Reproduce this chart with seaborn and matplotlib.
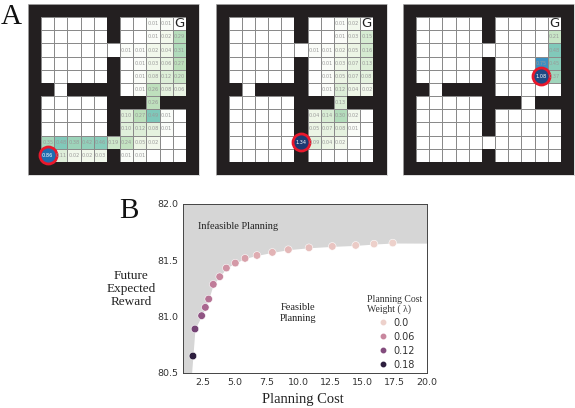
import numpy as np
import pandas as pd
import matplotlib
matplotlib.use("Agg")
import matplotlib.pyplot as plt
from matplotlib.colors import LinearSegmentedColormap, ListedColormap, Normalize
from matplotlib.lines import Line2D
import seaborn as sns

W, H = 575, 408
SERIF = "Liberation Serif"
WALL = "#231f20"

# maze layout, # is wall
MAZE = [
    "#############",
    "#.....#.....#",
    "#.....#.....#",
    "#...........#",
    "#.....#.....#",
    "#.....#.....#",
    "##.####.....#",
    "#.....###.###",
    "#.....#.....#",
    "#.....#.....#",
    "#...........#",
    "#.....#.....#",
    "#############",
]
GOAL = (1, 11)

# cell values, rows 1-11 of the maze and columns 1-11
VALUES_LEFT = [
    [0, 0, 0, 0, 0, 0, 0, 0, .01, .01, 0],
    [0, 0, 0, 0, 0, 0, 0, 0, .01, .02, .29],
    [0, 0, 0, 0, 0, 0, .01, .01, .02, .04, .31],
    [0, 0, 0, 0, 0, 0, 0, .01, .03, .06, .27],
    [0, 0, 0, 0, 0, 0, 0, .01, .08, .12, .20],
    [0, 0, 0, 0, 0, 0, 0, .01, .26, .08, .06],
    [0, 0, 0, 0, 0, 0, 0, 0, .26, 0, 0],
    [0, 0, 0, 0, 0, 0, .10, .27, .49, .01, 0],
    [0, 0, 0, 0, 0, 0, .10, .12, .08, .01, 0],
    [.35, .48, .38, .42, .46, .19, .24, .05, .02, 0, 0],
    [.86, .11, .02, .02, .03, 0, .01, .01, 0, 0, 0],
]
VALUES_MIDDLE = [
    [0, 0, 0, 0, 0, 0, 0, 0, .01, .02, 0],
    [0, 0, 0, 0, 0, 0, 0, 0, .01, .03, .15],
    [0, 0, 0, 0, 0, 0, .01, .01, .02, .05, .16],
    [0, 0, 0, 0, 0, 0, 0, .01, .03, .07, .13],
    [0, 0, 0, 0, 0, 0, 0, .01, .05, .07, .08],
    [0, 0, 0, 0, 0, 0, 0, .01, .12, .04, .02],
    [0, 0, 0, 0, 0, 0, 0, 0, .13, 0, 0],
    [0, 0, 0, 0, 0, 0, .04, .14, .30, .02, 0],
    [0, 0, 0, 0, 0, 0, .05, .07, .08, .01, 0],
    [0, 0, 0, 0, 0, 1.34, .09, .04, .02, 0, 0],
    [0, 0, 0, 0, 0, 0, 0, 0, 0, 0, 0],
]
VALUES_RIGHT = [
    [0, 0, 0, 0, 0, 0, 0, 0, 0, 0, 0],
    [0, 0, 0, 0, 0, 0, 0, 0, 0, 0, .21],
    [0, 0, 0, 0, 0, 0, 0, 0, 0, 0, .48],
    [0, 0, 0, 0, 0, 0, 0, 0, 0, .75, .45],
    [0, 0, 0, 0, 0, 0, 0, 0, 0, 1.08, .37],
    [0, 0, 0, 0, 0, 0, 0, 0, 0, 0, 0],
    [0, 0, 0, 0, 0, 0, 0, 0, 0, 0, 0],
    [0, 0, 0, 0, 0, 0, 0, 0, 0, 0, 0],
    [0, 0, 0, 0, 0, 0, 0, 0, 0, 0, 0],
    [0, 0, 0, 0, 0, 0, 0, 0, 0, 0, 0],
    [0, 0, 0, 0, 0, 0, 0, 0, 0, 0, 0],
]
AGENTS = [(11, 1), (10, 6), (5, 10)]

# frontier points of panel B
PLANNING_COST = [1.75, 1.91, 2.43, 2.72, 2.98, 3.34, 3.84, 4.36, 5.06, 5.82,
                 6.75, 7.95, 9.2, 10.81, 12.63, 14.46, 15.89, 17.35]
FUTURE_REWARD = [80.648, 80.888, 81.006, 81.08, 81.154, 81.284, 81.352, 81.429, 81.473,
                 81.515, 81.541, 81.568, 81.592, 81.609, 81.621, 81.63, 81.642, 81.651]
COST_WEIGHT = [.18, .13, .11, .09, .08, .07, .06, .05, .045,
               .04, .03, .025, .02, .015, .01, .005, .002, 0.0]
LEGEND_WEIGHTS = [0.0, 0.06, 0.12, 0.18]
X_TICKS = [2.5, 5.0, 7.5, 10.0, 12.5, 15.0, 17.5, 20.0]
Y_TICKS = [80.5, 81.0, 81.5, 82.0]

value_cmap = LinearSegmentedColormap.from_list("value", [
    (0, "#ffffff"), (0.01, "#f3f8ec"), (0.2, "#bcdfbb"), (0.36, "#80c9ba"),
    (0.56, "#3b90c2"), (0.64, "#1f6db0"), (0.8, "#1e4a85"), (1, "#1d3a72"),
])
value_norm = Normalize(0, 1.34)


def axes_px(fig, left, top, right, bottom):
    """Add axes from pixel edges, origin top left."""
    return fig.add_axes([left / W, 1 - bottom / H, (right - left) / W, (bottom - top) / H])


def text_px(fig, x, y, s, **kw):
    kw.setdefault("ha", "center")
    kw.setdefault("va", "center")
    kw.setdefault("family", SERIF)
    kw.setdefault("color", "#222222")
    fig.text(x / W, 1 - y / H, s, **kw)


def draw_maze(fig, box, values, agent):
    ax = axes_px(fig, *box)
    vals = np.pad(np.array(values, dtype=float), 1)
    walls = np.array([[c == "#" for c in row] for row in MAZE])
    labels = np.where(vals > 0, np.char.mod("%.2f", vals), "")
    labels = labels.astype(object)
    labels[GOAL] = "G"
    df = pd.DataFrame(vals)

    sns.heatmap(df, mask=walls, cmap=value_cmap, norm=value_norm, cbar=False, annot=labels, fmt="",
                annot_kws={"fontsize": 3.6, "color": "#9a9a9a"}, linewidths=0.7, linecolor="#8a8a8a",
                xticklabels=False, yticklabels=False, ax=ax)
    # walls go on top, the first heatmap also draws grid lines for masked cells
    sns.heatmap(df, mask=~walls, cmap=ListedColormap([WALL]), cbar=False, linewidths=0,
                xticklabels=False, yticklabels=False, ax=ax)

    r, c = agent
    ax.scatter([c + 0.5], [r + 0.5], s=150, color=value_cmap(value_norm(vals[r, c])),
               edgecolors="#e8182c", linewidths=2.0, zorder=2)
    agent_label = f"{vals[r, c]:.2f}"
    for t in ax.texts:
        if t.get_text() == "G":
            t.set_fontsize(9.5)
            t.set_color("#222222")
        elif t.get_text() == agent_label:
            t.set_color("white")
    for s in ax.spines.values():
        s.set_visible(True)
        s.set_color("#cfcfcf")
        s.set_linewidth(0.5)


def draw_frontier(fig):
    ax = axes_px(fig, 183.3, 203.7, 426.7, 372.7)
    edge_x = [1.0, 1.65] + PLANNING_COST + [20.0]
    edge_y = [80.5, 80.5] + FUTURE_REWARD + [81.65]
    ax.fill_between(edge_x, edge_y, 82.0, color="#d6d6d6", linewidth=0)

    cmap = sns.cubehelix_palette(as_cmap=True)
    norm = Normalize(0, 0.18)
    df = pd.DataFrame({"cost": PLANNING_COST, "reward": FUTURE_REWARD, "weight": COST_WEIGHT})
    sns.scatterplot(data=df, x="cost", y="reward", hue="weight", palette=cmap, hue_norm=norm,
                    s=30, edgecolor="white", linewidth=0.4, legend=False, ax=ax, zorder=3)

    ax.set_xlim(1.0, 20.0)
    ax.set_ylim(80.5, 82.0)
    ax.set_xticks(X_TICKS)
    ax.set_yticks(Y_TICKS)
    ax.set_xticklabels([f"{v:.1f}" for v in X_TICKS])
    ax.set_yticklabels([f"{v:.1f}" for v in Y_TICKS])
    ax.tick_params(labelsize=6.8, length=1.5, width=0.5, pad=2, colors="#333333")
    ax.set_xlabel("")
    ax.set_ylabel("")
    for s in ax.spines.values():
        s.set_color("#444444")
        s.set_linewidth(0.7)

    handles = [Line2D([], [], marker="o", linestyle="", markersize=3.2, color=cmap(norm(v)),
                      label=str(v)) for v in LEGEND_WEIGHTS]
    leg = ax.legend(handles=handles, title="Planning Cost\nWeight ( λ)", frameon=False, fontsize=7,
                    loc="lower right", bbox_to_anchor=(1.0, -0.012), labelspacing=0.42,
                    handletextpad=0.1, borderaxespad=0.1)
    leg.get_title().set_family(SERIF)
    leg.get_title().set_fontsize(7)
    leg.get_title().set_color("#333333")
    leg.get_title().set_linespacing(1.0)
    for t in leg.get_texts():
        t.set_color("#333333")


sns.set_theme(style="white")
fig = plt.figure(figsize=(W / 100, H / 100), dpi=100, facecolor="white")

draw_maze(fig, (28, 4, 199, 175), VALUES_LEFT, AGENTS[0])
draw_maze(fig, (215.5, 4, 386.5, 175), VALUES_MIDDLE, AGENTS[1])
draw_maze(fig, (403, 4, 574, 175), VALUES_RIGHT, AGENTS[2])
draw_frontier(fig)

text_px(fig, 11, 17, "A", fontsize=21, color="#111111")
text_px(fig, 129, 211, "B", fontsize=21, color="#111111")
text_px(fig, 131, 289, "Future\nExpected\nReward", fontsize=9.5, linespacing=1.15)
text_px(fig, 303, 399, "Planning Cost", fontsize=10.5)
text_px(fig, 238.5, 226, "Infeasible Planning", fontsize=7.5)
text_px(fig, 298, 313, "Feasible\nPlanning", fontsize=7.5, linespacing=1.25)

fig.savefig("out.png", dpi=100, facecolor="white")
